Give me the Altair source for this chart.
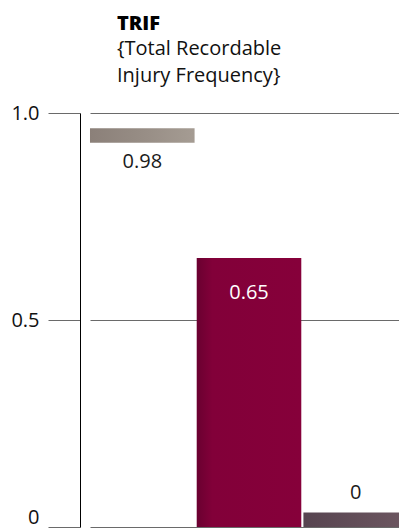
import altair as alt
import pandas as pd

# TRIF per period
periods = ["P1", "P2", "P3"]
trif = [0.98, 0.65, 0.0]
value_labels = ["0.98", "0.65", "0"]

df = pd.DataFrame({"period": periods, "trif": trif, "label": value_labels})

FONT = "Open Sans"
SIZE = 20
GRID = "#6a6a6a"


def gradient(stops):
    return alt.LinearGradient(
        gradient="linear",
        stops=[alt.GradientStop(offset=o, color=c) for o, c in stops],
        x1=0, x2=1, y1=0, y2=0,
    )


gray_fill = gradient([(0, "#8b8079"), (0.5, "#978d85"), (1, "#a59c93")])
crimson_fill = gradient([(0, "#6a0030"), (0.15, "#820039"), (1, "#86003a")])
mauve_fill = gradient([(0, "#574450"), (1, "#6d5761")])

x = alt.X(
    "period:N", sort=periods, axis=None,
    scale=alt.Scale(range=[10, 328], paddingInner=0.02, paddingOuter=0),
)
y = alt.Y(
    "trif:Q", title=None,
    scale=alt.Scale(domain=[0, 1], nice=False, zero=True),
    axis=alt.Axis(
        values=[0, 0.5, 1],
        labelExpr="datum.value == 0 ? '0' : format(datum.value, '.1f')",
        labelFont=FONT, labelFontSize=SIZE, labelColor="#111111",
        labelPadding=9,
        labelBaseline=alt.condition("datum.value == 0", alt.value("bottom"), alt.value("middle")),
        tickSize=32, tickColor=GRID, tickWidth=1,
        grid=True, gridColor=GRID, gridWidth=1,
        domainColor="#000000", domainWidth=1,
    ),
)

base = alt.Chart(df).encode(x=x, y=y)


def only(p):
    return base.transform_filter(alt.datum.period == p)


bar_mid = only("P2").mark_bar(color=crimson_fill, clip=True)
tick_first = only("P1").mark_tick(color=gray_fill, thickness=14.5, size=104.6,
                                  yOffset=14.2, opacity=1, clip=True)
tick_last = only("P3").mark_tick(color=mauve_fill, thickness=14.5, size=104.6,
                                 yOffset=-7.2, opacity=1, clip=True)

txt = dict(font=FONT, fontSize=SIZE)
label_first = only("P1").mark_text(yOffset=41, color="#1a1a1a", **txt).encode(text="label:N")
label_mid = only("P2").mark_text(yOffset=35, color="#ffffff", **txt).encode(text="label:N")
label_last = only("P3").mark_text(yOffset=-34, color="#1a1a1a", **txt).encode(text="label:N")

chart = (
    alt.layer(bar_mid, tick_first, tick_last, label_first, label_mid, label_last)
    .properties(
        width=319,
        height=414,
        title=alt.TitleParams(
            text="TRIF",
            subtitle=["{Total Recordable", "Injury Frequency}"],
            anchor="start", frame="group", dx=37, offset=17,
            font=FONT, fontSize=SIZE, fontWeight=800, color="#000000",
            subtitleFont=FONT, subtitleFontSize=SIZE, subtitleColor="#111111",
            subtitleLineHeight=27, subtitlePadding=5,
        ),
        padding={"left": 80, "top": 113, "right": 0, "bottom": 1},
        autosize=alt.AutoSizeParams(type="none"),
    )
    .configure_view(stroke=None)
)

chart.save("out.html", embed_options={"renderer": "svg", "actions": False})
